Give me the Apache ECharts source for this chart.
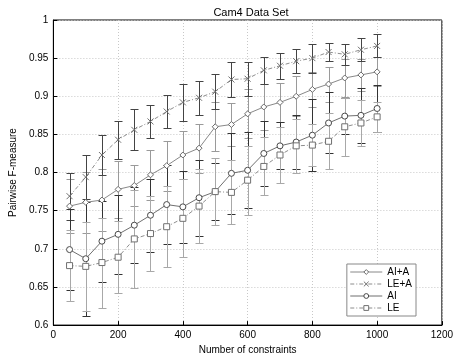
<!DOCTYPE html>
<html>
<head>
<meta charset="utf-8">
<script src="https://cdn.jsdelivr.net/npm/echarts@6/dist/echarts.min.js"></script>
<style>
  html, body { margin: 0; padding: 0; background: #fff; }
  #chart { width: 456px; height: 360px; }
</style>
</head>
<body>
<div id="chart"></div>
<script>
// number of constraints
var xs = [50, 100, 150, 200, 250, 300, 350, 400, 450, 500, 550, 600, 650, 700, 750, 800, 850, 900, 950, 1000];

// mean pairwise F-measure
var aiA = [0.756, 0.761, 0.764, 0.778, 0.783, 0.797, 0.809, 0.823, 0.832, 0.860, 0.863, 0.877, 0.886, 0.892, 0.900, 0.909, 0.916, 0.924, 0.928, 0.932];
var leA = [0.769, 0.794, 0.823, 0.843, 0.856, 0.867, 0.880, 0.892, 0.898, 0.906, 0.922, 0.923, 0.934, 0.940, 0.946, 0.950, 0.958, 0.955, 0.961, 0.966];
var ai  = [0.699, 0.687, 0.710, 0.719, 0.731, 0.744, 0.758, 0.755, 0.767, 0.775, 0.799, 0.803, 0.825, 0.835, 0.840, 0.849, 0.865, 0.874, 0.875, 0.884];
var le  = [0.678, 0.677, 0.682, 0.689, 0.713, 0.720, 0.729, 0.740, 0.756, 0.775, 0.774, 0.790, 0.808, 0.823, 0.835, 0.836, 0.841, 0.860, 0.865, 0.873];

// half-width of the error bars
var aiAErr = [0.035, 0.040, 0.040, 0.037, 0.027, 0.033, 0.033, 0.032, 0.032, 0.032, 0.028, 0.032, 0.030, 0.026, 0.026, 0.023, 0.023, 0.025, 0.021, 0.019];
var leAErr = [0.031, 0.029, 0.026, 0.025, 0.027, 0.022, 0.022, 0.024, 0.022, 0.023, 0.023, 0.022, 0.018, 0.017, 0.016, 0.019, 0.012, 0.014, 0.015, 0.015];
var aiErr  = [0.053, 0.075, 0.053, 0.052, 0.050, 0.048, 0.052, 0.047, 0.050, 0.037, 0.053, 0.050, 0.043, 0.031, 0.036, 0.047, 0.040, 0.024, 0.036, 0.031];
var leErr  = [0.047, 0.058, 0.059, 0.047, 0.064, 0.049, 0.053, 0.051, 0.049, 0.044, 0.042, 0.045, 0.038, 0.037, 0.035, 0.028, 0.037, 0.038, 0.030, 0.020];

var names = ['AI+A', 'LE+A', 'AI', 'LE'];

function pts(ys) {
  return xs.map(function (x, i) { return [x, ys[i]]; });
}
function bars(ys, es) {
  return xs.map(function (x, i) { return [x, ys[i] - es[i], ys[i] + es[i]]; });
}

// errorbar drawn with a custom series
function errSeries(ys, es, color) {
  return {
    type: 'custom',
    silent: true,
    z: 1,
    encode: { x: 0, y: [1, 2] },
    data: bars(ys, es),
    renderItem: function (params, api) {
      var x = api.value(0);
      var lo = api.coord([x, api.value(1)]);
      var hi = api.coord([x, api.value(2)]);
      var w = 4;
      var px = Math.round(lo[0]) + 0.5;
      var yl = Math.round(lo[1]) + 0.5, yh = Math.round(hi[1]) + 0.5;
      var st = { stroke: color, lineWidth: 1 };
      return {
        type: 'group',
        children: [
          { type: 'line', shape: { x1: px, y1: yl, x2: px, y2: yh }, style: st },
          { type: 'line', shape: { x1: px - w, y1: yh, x2: px + w, y2: yh }, style: st },
          { type: 'line', shape: { x1: px - w, y1: yl, x2: px + w, y2: yl }, style: st }
        ]
      };
    }
  };
}

function lineSeries(name, ys, color, symbol, dashed) {
  return {
    name: name,
    type: 'line',
    z: 3,
    data: pts(ys),
    symbol: symbol,
    symbolSize: 6,
    showAllSymbol: true,
    lineStyle: { color: color, width: 0.8, type: dashed ? [4, 2, 1, 2] : 'solid' },
    itemStyle: { color: '#fff', borderColor: color, borderWidth: 1 },
    emphasis: { disabled: true },
    animation: false
  };
}

var crossPath = 'path://M0,0L10,10M10,0L0,10';

var chart = echarts.init(document.getElementById('chart'), null, { renderer: 'canvas' });
var font = 'Liberation Sans, Arial, sans-serif';

var option = {
  backgroundColor: '#fff',
  animation: false,
  textStyle: { fontFamily: font },
  title: {
    text: 'Cam4 Data Set',
    left: 246,
    textAlign: 'center',
    top: 2,
    textStyle: { fontSize: 11, fontWeight: 'normal', color: '#000', fontFamily: font }
  },
  legend: {
    data: names,
    orient: 'vertical',
    right: 40,
    top: 264,
    itemWidth: 32,
    itemHeight: 6,
    itemGap: 2,
    padding: [3, 4, 3, 3],
    borderColor: '#888',
    borderWidth: 1,
    borderRadius: 0,
    backgroundColor: '#fff',
    lineStyle: { width: 0.8 },
    itemStyle: { borderWidth: 1 },
    textStyle: { fontSize: 10, color: '#000', fontFamily: font }
  },
  grid: {
    left: 47, right: 11, top: 20, bottom: 27,
    show: true, borderColor: '#000', borderWidth: 1
  },
  xAxis: {
    type: 'value',
    min: 0, max: 1200, interval: 200,
    name: 'Number of constraints',
    nameLocation: 'middle',
    nameGap: 17,
    nameTextStyle: { fontSize: 10, color: '#000', fontFamily: font },
    axisLine: { lineStyle: { color: '#000' } },
    axisTick: { inside: true, length: 4, lineStyle: { color: '#000' } },
    axisLabel: { fontSize: 10, color: '#000', margin: 5, fontFamily: font, formatter: function (v) { return String(v); } },
    splitLine: { show: true, lineStyle: { color: '#c8c8c8', type: [1, 2] } }
  },
  yAxis: {
    type: 'value',
    min: 0.6, max: 1, interval: 0.05,
    name: 'Pairwise F-measure',
    nameLocation: 'middle',
    nameGap: 30,
    nameTextStyle: { fontSize: 10, color: '#000', fontFamily: font },
    axisLine: { show: true, lineStyle: { color: '#000' } },
    axisTick: { show: true, inside: true, length: 4, lineStyle: { color: '#000' } },
    axisLabel: { fontSize: 10, color: '#000', margin: 5, fontFamily: font },
    splitLine: { show: true, lineStyle: { color: '#c8c8c8', type: [1, 2] } }
  },
  series: [
    errSeries(aiA, aiAErr, '#9a9a9a'),
    errSeries(leA, leAErr, '#444'),
    errSeries(ai, aiErr, '#333'),
    errSeries(le, leErr, '#a8a8a8'),
    lineSeries('AI+A', aiA, '#6a6a6a', 'diamond', false),
    lineSeries('LE+A', leA, '#707070', crossPath, true),
    lineSeries('AI', ai, '#4a4a4a', 'circle', false),
    lineSeries('LE', le, '#707070', 'rect', true)
  ]
};

chart.setOption(option);
</script>
</body>
</html>
